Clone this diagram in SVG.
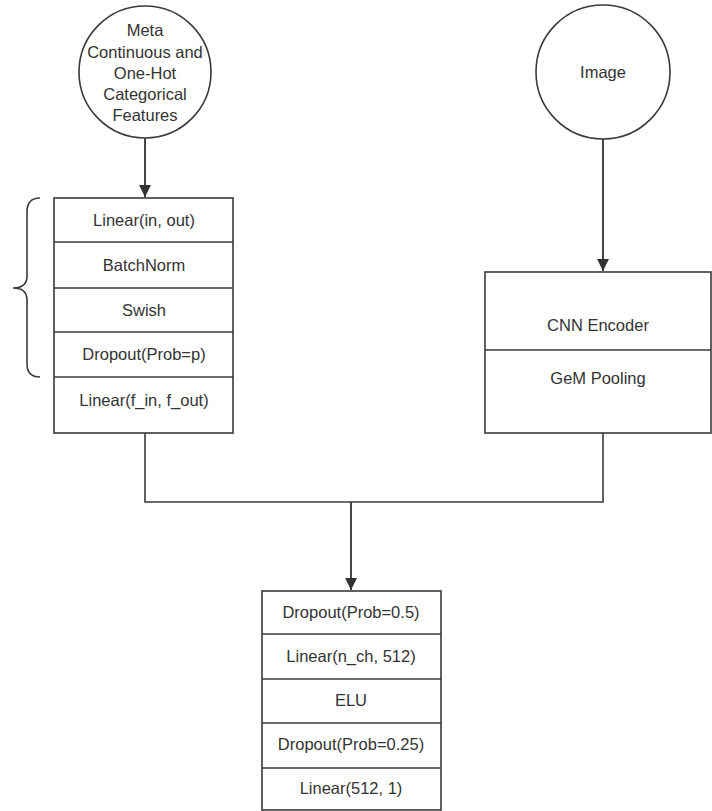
<svg xmlns="http://www.w3.org/2000/svg" width="712" height="811" viewBox="0 0 712 811">
<style>
.s{fill:#fff;stroke:#3a3a3a;stroke-width:1.6}
.l{fill:none;stroke:#3a3a3a;stroke-width:1.6}
.c{fill:none;stroke:#333;stroke-width:1.8}
text{font-family:"Liberation Sans",Arial,sans-serif;font-size:16.5px;fill:#333;text-anchor:middle;dominant-baseline:central}
</style>
<defs>
<marker id="ah" markerWidth="12" markerHeight="12" refX="10" refY="5" orient="auto" markerUnits="userSpaceOnUse" viewBox="0 0 10 10">
<path d="M0,0 L10,5 L0,10 Z" fill="#333"/>
</marker>
</defs>
<rect width="712" height="811" fill="#fff"/>
<g id="connectors">
<line class="c" x1="145" y1="138" x2="145" y2="197" marker-end="url(#ah)"/>
<line class="c" x1="603" y1="139" x2="603" y2="271" marker-end="url(#ah)"/>
<polyline class="l" points="145,433 145,502 603,502 603,433"/>
<line class="c" x1="351" y1="502" x2="351" y2="590" marker-end="url(#ah)"/>
</g>
<g id="meta-input">
<circle class="s" cx="145" cy="72" r="66"/>
<text x="145" y="30">Meta</text>
<text x="145" y="52">Continuous and</text>
<text x="145" y="73">One-Hot</text>
<text x="145" y="94">Categorical</text>
<text x="145" y="115">Features</text>
</g>
<g id="image-input">
<circle class="s" cx="603" cy="72" r="67"/>
<text x="603" y="72">Image</text>
</g>
<g id="meta-branch">
<rect class="s" x="54" y="198" width="179" height="235"/>
<line class="l" x1="54" y1="242" x2="233" y2="242"/>
<line class="l" x1="54" y1="288" x2="233" y2="288"/>
<line class="l" x1="54" y1="332" x2="233" y2="332"/>
<line class="l" x1="54" y1="377" x2="233" y2="377"/>
<text x="144" y="220">Linear(in, out)</text>
<text x="144" y="265">BatchNorm</text>
<text x="144" y="310">Swish</text>
<text x="144" y="354">Dropout(Prob=p)</text>
<text x="144" y="400">Linear(f_in, f_out)</text>
</g>
<g id="brace">
<path class="l" d="M40,198 Q27,198 27,212 L27,276 Q27,288 13,288 Q27,288 27,300 L27,364 Q27,377 40,377"/>
</g>
<g id="image-branch">
<rect class="s" x="485" y="272" width="226" height="161"/>
<line class="l" x1="485" y1="350" x2="711" y2="350"/>
<text x="598" y="325">CNN Encoder</text>
<text x="598" y="378">GeM Pooling</text>
</g>
<g id="head">
<rect class="s" x="262" y="591" width="179" height="219"/>
<line class="l" x1="262" y1="634" x2="441" y2="634"/>
<line class="l" x1="262" y1="679" x2="441" y2="679"/>
<line class="l" x1="262" y1="723" x2="441" y2="723"/>
<line class="l" x1="262" y1="768" x2="441" y2="768"/>
<text x="351" y="612">Dropout(Prob=0.5)</text>
<text x="351" y="656">Linear(n_ch, 512)</text>
<text x="351" y="700">ELU</text>
<text x="351" y="744">Dropout(Prob=0.25)</text>
<text x="351" y="788">Linear(512, 1)</text>
</g>
</svg>
